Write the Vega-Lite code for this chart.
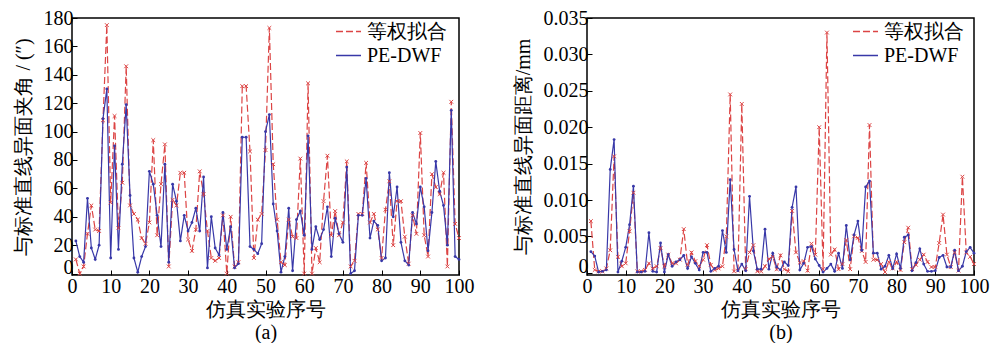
{
"$schema":"https://vega.github.io/schema/vega-lite/v6.json",
"padding":{"left":12,"top":7,"right":0,"bottom":0},
"spacing":37,
"config":{
"font":"Liberation Serif",
"view":{"stroke":"black","strokeWidth":1.5},
"axis":{"labelFont":"Liberation Serif","labelFontSize":20,"labelColor":"black","titleFont":"Liberation Serif","titleFontSize":20,"titleFontWeight":"normal","titleColor":"black","tickColor":"black","tickSize":-5,"domain":false,"grid":false,"labelPadding":4,"labelFlush":false,"titlePadding":10},
"legend":{"labelFont":"Liberation Serif","labelFontSize":20}
},
"datasets":{
"a":[
{"i":1,"s":"等权拟合","v":10},{"i":2,"s":"等权拟合","v":0},{"i":3,"s":"等权拟合","v":5},{"i":4,"s":"等权拟合","v":28},{"i":5,"s":"等权拟合","v":48},{"i":6,"s":"等权拟合","v":31},{"i":7,"s":"等权拟合","v":30},{"i":8,"s":"等权拟合","v":108},{"i":9,"s":"等权拟合","v":175},{"i":10,"s":"等权拟合","v":50},
{"i":11,"s":"等权拟合","v":111},{"i":12,"s":"等权拟合","v":32},{"i":13,"s":"等权拟合","v":64},{"i":14,"s":"等权拟合","v":146},{"i":15,"s":"等权拟合","v":48},{"i":16,"s":"等权拟合","v":42},{"i":17,"s":"等权拟合","v":38},{"i":18,"s":"等权拟合","v":25},{"i":19,"s":"等权拟合","v":21},{"i":20,"s":"等权拟合","v":36},
{"i":21,"s":"等权拟合","v":94},{"i":22,"s":"等权拟合","v":27},{"i":23,"s":"等权拟合","v":63},{"i":24,"s":"等权拟合","v":91},{"i":25,"s":"等权拟合","v":5},{"i":26,"s":"等权拟合","v":52},{"i":27,"s":"等权拟合","v":48},{"i":28,"s":"等权拟合","v":71},{"i":29,"s":"等权拟合","v":71},{"i":30,"s":"等权拟合","v":24},
{"i":31,"s":"等权拟合","v":16},{"i":32,"s":"等权拟合","v":31},{"i":33,"s":"等权拟合","v":72},{"i":34,"s":"等权拟合","v":56},{"i":35,"s":"等权拟合","v":30},{"i":36,"s":"等权拟合","v":11},{"i":37,"s":"等权拟合","v":9},{"i":38,"s":"等权拟合","v":11},{"i":39,"s":"等权拟合","v":41},{"i":40,"s":"等权拟合","v":0},
{"i":41,"s":"等权拟合","v":40},{"i":42,"s":"等权拟合","v":5},{"i":43,"s":"等权拟合","v":8},{"i":44,"s":"等权拟合","v":132},{"i":45,"s":"等权拟合","v":132},{"i":46,"s":"等权拟合","v":86},{"i":47,"s":"等权拟合","v":11},{"i":48,"s":"等权拟合","v":38},{"i":49,"s":"等权拟合","v":42},{"i":50,"s":"等权拟合","v":87},
{"i":51,"s":"等权拟合","v":173},{"i":52,"s":"等权拟合","v":77},{"i":53,"s":"等权拟合","v":38},{"i":54,"s":"等权拟合","v":8},{"i":55,"s":"等权拟合","v":6},{"i":56,"s":"等权拟合","v":38},{"i":57,"s":"等权拟合","v":26},{"i":58,"s":"等权拟合","v":25},{"i":59,"s":"等权拟合","v":81},{"i":60,"s":"等权拟合","v":0},
{"i":61,"s":"等权拟合","v":134},{"i":62,"s":"等权拟合","v":0},{"i":63,"s":"等权拟合","v":18},{"i":64,"s":"等权拟合","v":8},{"i":65,"s":"等权拟合","v":51},{"i":66,"s":"等权拟合","v":83},{"i":67,"s":"等权拟合","v":27},{"i":68,"s":"等权拟合","v":44},{"i":69,"s":"等权拟合","v":27},{"i":70,"s":"等权拟合","v":36},
{"i":71,"s":"等权拟合","v":79},{"i":72,"s":"等权拟合","v":5},{"i":73,"s":"等权拟合","v":9},{"i":74,"s":"等权拟合","v":42},{"i":75,"s":"等权拟合","v":42},{"i":76,"s":"等权拟合","v":78},{"i":77,"s":"等权拟合","v":36},{"i":78,"s":"等权拟合","v":42},{"i":79,"s":"等权拟合","v":31},{"i":80,"s":"等权拟合","v":11},
{"i":81,"s":"等权拟合","v":45},{"i":82,"s":"等权拟合","v":65},{"i":83,"s":"等权拟合","v":20},{"i":84,"s":"等权拟合","v":51},{"i":85,"s":"等权拟合","v":51},{"i":86,"s":"等权拟合","v":26},{"i":87,"s":"等权拟合","v":7},{"i":88,"s":"等权拟合","v":41},{"i":89,"s":"等权拟合","v":28},{"i":90,"s":"等权拟合","v":99},
{"i":91,"s":"等权拟合","v":27},{"i":92,"s":"等权拟合","v":12},{"i":93,"s":"等权拟合","v":70},{"i":94,"s":"等权拟合","v":61},{"i":95,"s":"等权拟合","v":56},{"i":96,"s":"等权拟合","v":71},{"i":97,"s":"等权拟合","v":5},{"i":98,"s":"等权拟合","v":121},{"i":99,"s":"等权拟合","v":35},{"i":100,"s":"等权拟合","v":25},
{"i":1,"s":"PE-DWF","v":23},{"i":2,"s":"PE-DWF","v":12},{"i":3,"s":"PE-DWF","v":8},{"i":4,"s":"PE-DWF","v":53},{"i":5,"s":"PE-DWF","v":18},{"i":6,"s":"PE-DWF","v":10},{"i":7,"s":"PE-DWF","v":20},{"i":8,"s":"PE-DWF","v":109},{"i":9,"s":"PE-DWF","v":130},{"i":10,"s":"PE-DWF","v":11},
{"i":11,"s":"PE-DWF","v":90},{"i":12,"s":"PE-DWF","v":17},{"i":13,"s":"PE-DWF","v":77},{"i":14,"s":"PE-DWF","v":119},{"i":15,"s":"PE-DWF","v":55},{"i":16,"s":"PE-DWF","v":11},{"i":17,"s":"PE-DWF","v":1},{"i":18,"s":"PE-DWF","v":12},{"i":19,"s":"PE-DWF","v":19},{"i":20,"s":"PE-DWF","v":72},
{"i":21,"s":"PE-DWF","v":63},{"i":22,"s":"PE-DWF","v":41},{"i":23,"s":"PE-DWF","v":19},{"i":24,"s":"PE-DWF","v":77},{"i":25,"s":"PE-DWF","v":8},{"i":26,"s":"PE-DWF","v":63},{"i":27,"s":"PE-DWF","v":51},{"i":28,"s":"PE-DWF","v":23},{"i":29,"s":"PE-DWF","v":41},{"i":30,"s":"PE-DWF","v":30},
{"i":31,"s":"PE-DWF","v":36},{"i":32,"s":"PE-DWF","v":46},{"i":33,"s":"PE-DWF","v":30},{"i":34,"s":"PE-DWF","v":68},{"i":35,"s":"PE-DWF","v":4},{"i":36,"s":"PE-DWF","v":40},{"i":37,"s":"PE-DWF","v":18},{"i":38,"s":"PE-DWF","v":13},{"i":39,"s":"PE-DWF","v":43},{"i":40,"s":"PE-DWF","v":17},
{"i":41,"s":"PE-DWF","v":33},{"i":42,"s":"PE-DWF","v":4},{"i":43,"s":"PE-DWF","v":7},{"i":44,"s":"PE-DWF","v":96},{"i":45,"s":"PE-DWF","v":96},{"i":46,"s":"PE-DWF","v":19},{"i":47,"s":"PE-DWF","v":17},{"i":48,"s":"PE-DWF","v":14},{"i":49,"s":"PE-DWF","v":21},{"i":50,"s":"PE-DWF","v":100},
{"i":51,"s":"PE-DWF","v":112},{"i":52,"s":"PE-DWF","v":49},{"i":53,"s":"PE-DWF","v":30},{"i":54,"s":"PE-DWF","v":1},{"i":55,"s":"PE-DWF","v":12},{"i":56,"s":"PE-DWF","v":46},{"i":57,"s":"PE-DWF","v":2},{"i":58,"s":"PE-DWF","v":38},{"i":59,"s":"PE-DWF","v":44},{"i":60,"s":"PE-DWF","v":27},
{"i":61,"s":"PE-DWF","v":97},{"i":62,"s":"PE-DWF","v":17},{"i":63,"s":"PE-DWF","v":33},{"i":64,"s":"PE-DWF","v":24},{"i":65,"s":"PE-DWF","v":31},{"i":66,"s":"PE-DWF","v":47},{"i":67,"s":"PE-DWF","v":12},{"i":68,"s":"PE-DWF","v":39},{"i":69,"s":"PE-DWF","v":28},{"i":70,"s":"PE-DWF","v":22},
{"i":71,"s":"PE-DWF","v":75},{"i":72,"s":"PE-DWF","v":0},{"i":73,"s":"PE-DWF","v":2},{"i":74,"s":"PE-DWF","v":41},{"i":75,"s":"PE-DWF","v":41},{"i":76,"s":"PE-DWF","v":67},{"i":77,"s":"PE-DWF","v":25},{"i":78,"s":"PE-DWF","v":37},{"i":79,"s":"PE-DWF","v":34},{"i":80,"s":"PE-DWF","v":9},
{"i":81,"s":"PE-DWF","v":11},{"i":82,"s":"PE-DWF","v":71},{"i":83,"s":"PE-DWF","v":40},{"i":84,"s":"PE-DWF","v":61},{"i":85,"s":"PE-DWF","v":22},{"i":86,"s":"PE-DWF","v":9},{"i":87,"s":"PE-DWF","v":6},{"i":88,"s":"PE-DWF","v":43},{"i":89,"s":"PE-DWF","v":35},{"i":90,"s":"PE-DWF","v":61},
{"i":91,"s":"PE-DWF","v":47},{"i":92,"s":"PE-DWF","v":16},{"i":93,"s":"PE-DWF","v":43},{"i":94,"s":"PE-DWF","v":79},{"i":95,"s":"PE-DWF","v":58},{"i":96,"s":"PE-DWF","v":48},{"i":97,"s":"PE-DWF","v":20},{"i":98,"s":"PE-DWF","v":115},{"i":99,"s":"PE-DWF","v":12},{"i":100,"s":"PE-DWF","v":10}
],
"b":[
{"i":1,"s":"等权拟合","v":0.0071},{"i":2,"s":"等权拟合","v":0.0004},{"i":3,"s":"等权拟合","v":0.0002},{"i":4,"s":"等权拟合","v":0.0002},{"i":5,"s":"等权拟合","v":0.0006},{"i":6,"s":"等权拟合","v":0.0031},{"i":7,"s":"等权拟合","v":0.016},{"i":8,"s":"等权拟合","v":0.0022},{"i":9,"s":"等权拟合","v":0.0009},{"i":10,"s":"等权拟合","v":0.0013},
{"i":11,"s":"等权拟合","v":0.0057},{"i":12,"s":"等权拟合","v":0.011},{"i":13,"s":"等权拟合","v":0.0002},{"i":14,"s":"等权拟合","v":0.0002},{"i":15,"s":"等权拟合","v":0.0004},{"i":16,"s":"等权拟合","v":0.0013},{"i":17,"s":"等权拟合","v":0.0006},{"i":18,"s":"等权拟合","v":0.0009},{"i":19,"s":"等权拟合","v":0.0034},{"i":20,"s":"等权拟合","v":0.0009},
{"i":21,"s":"等权拟合","v":0.0025},{"i":22,"s":"等权拟合","v":0.0013},{"i":23,"s":"等权拟合","v":0.0013},{"i":24,"s":"等权拟合","v":0.0018},{"i":25,"s":"等权拟合","v":0.006},{"i":26,"s":"等权拟合","v":0.0011},{"i":27,"s":"等权拟合","v":0.0028},{"i":28,"s":"等权拟合","v":0.0016},{"i":29,"s":"等权拟合","v":0.0009},{"i":30,"s":"等权拟合","v":0.0018},
{"i":31,"s":"等权拟合","v":0.0038},{"i":32,"s":"等权拟合","v":0.0011},{"i":33,"s":"等权拟合","v":0.0004},{"i":34,"s":"等权拟合","v":0.0006},{"i":35,"s":"等权拟合","v":0.0009},{"i":36,"s":"等权拟合","v":0.005},{"i":37,"s":"等权拟合","v":0.0245},{"i":38,"s":"等权拟合","v":0.0002},{"i":39,"s":"等权拟合","v":0.0003},{"i":40,"s":"等权拟合","v":0.0232},
{"i":41,"s":"等权拟合","v":0.0005},{"i":42,"s":"等权拟合","v":0.0028},{"i":43,"s":"等权拟合","v":0.0038},{"i":44,"s":"等权拟合","v":0.0002},{"i":45,"s":"等权拟合","v":0.0002},{"i":46,"s":"等权拟合","v":0.0009},{"i":47,"s":"等权拟合","v":0.0019},{"i":48,"s":"等权拟合","v":0.0022},{"i":49,"s":"等权拟合","v":0.0005},{"i":50,"s":"等权拟合","v":0.0024},
{"i":51,"s":"等权拟合","v":0.0005},{"i":52,"s":"等权拟合","v":0.0002},{"i":53,"s":"等权拟合","v":0.0085},{"i":54,"s":"等权拟合","v":0.0028},{"i":55,"s":"等权拟合","v":0.0014},{"i":56,"s":"等权拟合","v":0.0016},{"i":57,"s":"等权拟合","v":0.0003},{"i":58,"s":"等权拟合","v":0.004},{"i":59,"s":"等权拟合","v":0.0025},{"i":60,"s":"等权拟合","v":0.02},
{"i":61,"s":"等权拟合","v":0.0005},{"i":62,"s":"等权拟合","v":0.033},{"i":63,"s":"等权拟合","v":0.0025},{"i":64,"s":"等权拟合","v":0.0032},{"i":65,"s":"等权拟合","v":0.0005},{"i":66,"s":"等权拟合","v":0.0012},{"i":67,"s":"等权拟合","v":0.0045},{"i":68,"s":"等权拟合","v":0.0005},{"i":69,"s":"等权拟合","v":0.005},{"i":70,"s":"等权拟合","v":0.0048},
{"i":71,"s":"等权拟合","v":0.003},{"i":72,"s":"等权拟合","v":0.0015},{"i":73,"s":"等权拟合","v":0.0203},{"i":74,"s":"等权拟合","v":0.0018},{"i":75,"s":"等权拟合","v":0.0018},{"i":76,"s":"等权拟合","v":0.0012},{"i":77,"s":"等权拟合","v":0.0001},{"i":78,"s":"等权拟合","v":0.0015},{"i":79,"s":"等权拟合","v":0.0006},{"i":80,"s":"等权拟合","v":0.0015},
{"i":81,"s":"等权拟合","v":0.0004},{"i":82,"s":"等权拟合","v":0.0042},{"i":83,"s":"等权拟合","v":0.0062},{"i":84,"s":"等权拟合","v":0.0005},{"i":85,"s":"等权拟合","v":0.0011},{"i":86,"s":"等权拟合","v":0.0018},{"i":87,"s":"等权拟合","v":0.0025},{"i":88,"s":"等权拟合","v":0.0015},{"i":89,"s":"等权拟合","v":0.0008},{"i":90,"s":"等权拟合","v":0.0008},
{"i":91,"s":"等权拟合","v":0.0041},{"i":92,"s":"等权拟合","v":0.008},{"i":93,"s":"等权拟合","v":0.0025},{"i":94,"s":"等权拟合","v":0.0008},{"i":95,"s":"等权拟合","v":0.0028},{"i":96,"s":"等权拟合","v":0.0003},{"i":97,"s":"等权拟合","v":0.0132},{"i":98,"s":"等权拟合","v":0.0028},{"i":99,"s":"等权拟合","v":0.0022},{"i":100,"s":"等权拟合","v":0.0012},
{"i":1,"s":"PE-DWF","v":0.0029},{"i":2,"s":"PE-DWF","v":0.0023},{"i":3,"s":"PE-DWF","v":0.0001},{"i":4,"s":"PE-DWF","v":0.0002},{"i":5,"s":"PE-DWF","v":0.0004},{"i":6,"s":"PE-DWF","v":0.0142},{"i":7,"s":"PE-DWF","v":0.0183},{"i":8,"s":"PE-DWF","v":0.0001},{"i":9,"s":"PE-DWF","v":0.0016},{"i":10,"s":"PE-DWF","v":0.0035},
{"i":11,"s":"PE-DWF","v":0.0066},{"i":12,"s":"PE-DWF","v":0.0119},{"i":13,"s":"PE-DWF","v":0.0001},{"i":14,"s":"PE-DWF","v":0.0001},{"i":15,"s":"PE-DWF","v":0.0002},{"i":16,"s":"PE-DWF","v":0.0055},{"i":17,"s":"PE-DWF","v":0.0002},{"i":18,"s":"PE-DWF","v":0.0001},{"i":19,"s":"PE-DWF","v":0.0041},{"i":20,"s":"PE-DWF","v":0.0001},
{"i":21,"s":"PE-DWF","v":0.0025},{"i":22,"s":"PE-DWF","v":0.0009},{"i":23,"s":"PE-DWF","v":0.0015},{"i":24,"s":"PE-DWF","v":0.0018},{"i":25,"s":"PE-DWF","v":0.0024},{"i":26,"s":"PE-DWF","v":0.0006},{"i":27,"s":"PE-DWF","v":0.0022},{"i":28,"s":"PE-DWF","v":0.0013},{"i":29,"s":"PE-DWF","v":0.0004},{"i":30,"s":"PE-DWF","v":0.0028},
{"i":31,"s":"PE-DWF","v":0.0028},{"i":32,"s":"PE-DWF","v":0.0002},{"i":33,"s":"PE-DWF","v":0.0006},{"i":34,"s":"PE-DWF","v":0.0009},{"i":35,"s":"PE-DWF","v":0.0058},{"i":36,"s":"PE-DWF","v":0.0028},{"i":37,"s":"PE-DWF","v":0.0128},{"i":38,"s":"PE-DWF","v":0.0032},{"i":39,"s":"PE-DWF","v":0.0003},{"i":40,"s":"PE-DWF","v":0.0012},
{"i":41,"s":"PE-DWF","v":0.0003},{"i":42,"s":"PE-DWF","v":0.0105},{"i":43,"s":"PE-DWF","v":0.003},{"i":44,"s":"PE-DWF","v":0.0005},{"i":45,"s":"PE-DWF","v":0.0005},{"i":46,"s":"PE-DWF","v":0.006},{"i":47,"s":"PE-DWF","v":0.0005},{"i":48,"s":"PE-DWF","v":0.0027},{"i":49,"s":"PE-DWF","v":0.0008},{"i":50,"s":"PE-DWF","v":0.0004},
{"i":51,"s":"PE-DWF","v":0.0015},{"i":52,"s":"PE-DWF","v":0.001},{"i":53,"s":"PE-DWF","v":0.009},{"i":54,"s":"PE-DWF","v":0.0118},{"i":55,"s":"PE-DWF","v":0.0004},{"i":56,"s":"PE-DWF","v":0.0013},{"i":57,"s":"PE-DWF","v":0.0035},{"i":58,"s":"PE-DWF","v":0.0036},{"i":59,"s":"PE-DWF","v":0.0019},{"i":60,"s":"PE-DWF","v":0.001},
{"i":61,"s":"PE-DWF","v":0.0001},{"i":62,"s":"PE-DWF","v":0.0006},{"i":63,"s":"PE-DWF","v":0.0012},{"i":64,"s":"PE-DWF","v":0.0002},{"i":65,"s":"PE-DWF","v":0.0027},{"i":66,"s":"PE-DWF","v":0.0006},{"i":67,"s":"PE-DWF","v":0.0065},{"i":68,"s":"PE-DWF","v":0.0018},{"i":69,"s":"PE-DWF","v":0.0052},{"i":70,"s":"PE-DWF","v":0.0071},
{"i":71,"s":"PE-DWF","v":0.0031},{"i":72,"s":"PE-DWF","v":0.0118},{"i":73,"s":"PE-DWF","v":0.0126},{"i":74,"s":"PE-DWF","v":0.0027},{"i":75,"s":"PE-DWF","v":0.0027},{"i":76,"s":"PE-DWF","v":0.0005},{"i":77,"s":"PE-DWF","v":0.0009},{"i":78,"s":"PE-DWF","v":0.0024},{"i":79,"s":"PE-DWF","v":0.0006},{"i":80,"s":"PE-DWF","v":0.0026},
{"i":81,"s":"PE-DWF","v":0.0006},{"i":82,"s":"PE-DWF","v":0.0049},{"i":83,"s":"PE-DWF","v":0.0052},{"i":84,"s":"PE-DWF","v":0.0003},{"i":85,"s":"PE-DWF","v":0.0014},{"i":86,"s":"PE-DWF","v":0.0033},{"i":87,"s":"PE-DWF","v":0.0012},{"i":88,"s":"PE-DWF","v":0.0002},{"i":89,"s":"PE-DWF","v":0.0002},{"i":90,"s":"PE-DWF","v":0.0003},
{"i":91,"s":"PE-DWF","v":0.0021},{"i":92,"s":"PE-DWF","v":0.0024},{"i":93,"s":"PE-DWF","v":0.0008},{"i":94,"s":"PE-DWF","v":0.0008},{"i":95,"s":"PE-DWF","v":0.0031},{"i":96,"s":"PE-DWF","v":0.0003},{"i":97,"s":"PE-DWF","v":0.0009},{"i":98,"s":"PE-DWF","v":0.0029},{"i":99,"s":"PE-DWF","v":0.0035},{"i":100,"s":"PE-DWF","v":0.0027}
]
},
"hconcat":[
{
"width":387,"height":257,
"data":{"name":"a"},
"encoding":{
"x":{"field":"i","type":"quantitative","scale":{"domain":[0,100],"nice":false},"axis":{"values":[0,10,20,30,40,50,60,70,80,90,100],"labelPadding":6,"title":["仿真实验序号","(a)"],"titlePadding":3,"titleLineHeight":23}},
"y":{"field":"v","type":"quantitative","scale":{"domain":[-1,180],"nice":false,"zero":false},"axis":{"values":[0,20,40,60,80,100,120,140,160,180],"labelOffset":{"condition":{"test":"datum.value == 0","value":-6},"value":0},"title":"与标准直线异面夹角 / (″)"}},
"color":{"field":"s","type":"nominal","sort":["等权拟合","PE-DWF"],"scale":{"domain":["等权拟合","PE-DWF"],"range":["#dc4444","#3838a8"]},"legend":{"title":null,"orient":"none","legendX":263,"legendY":0,"symbolType":"stroke","symbolSize":625,"symbolStrokeWidth":1.3,"labelFont":"Liberation Serif","labelFontSize":20,"labelColor":"black","rowPadding":-4,"labelOffset":5,"padding":0}}
},
"layer":[
{"mark":{"type":"line","strokeWidth":1.2},"encoding":{"strokeDash":{"field":"s","type":"nominal","sort":["等权拟合","PE-DWF"],"scale":{"domain":["等权拟合","PE-DWF"],"range":[[7,3],[1,0]]},"legend":{"title":null,"orient":"none","legendX":263,"legendY":0,"symbolType":"stroke","symbolSize":625,"symbolStrokeWidth":1.3,"labelFont":"Liberation Serif","labelFontSize":20,"labelColor":"black","rowPadding":-4,"labelOffset":5,"padding":0}}}},
{"transform":[{"filter":"datum.s == '等权拟合'"}],"mark":{"type":"point","shape":"M-1,-1L1,1M-1,1L1,-1","size":14,"strokeWidth":1,"opacity":1}},
{"transform":[{"filter":"datum.s == 'PE-DWF'"}],"mark":{"type":"point","shape":"circle","filled":true,"size":8,"opacity":1}}
]
},
{
"width":387,"height":257,
"data":{"name":"b"},
"encoding":{
"x":{"field":"i","type":"quantitative","scale":{"domain":[0,100],"nice":false},"axis":{"values":[0,10,20,30,40,50,60,70,80,90,100],"labelPadding":6,"title":["仿真实验序号","(b)"],"titlePadding":3,"titleLineHeight":23}},
"y":{"field":"v","type":"quantitative","scale":{"domain":[-0.0003,0.035],"nice":false,"zero":false},"axis":{"values":[0,0.005,0.01,0.015,0.02,0.025,0.03,0.035],"labelOffset":{"condition":{"test":"datum.value == 0","value":-6},"value":0},"labelExpr":"datum.value == 0 ? '0' : format(datum.value, '.3f')","title":"与标准直线异面距离/mm"}},
"color":{"field":"s","type":"nominal","sort":["等权拟合","PE-DWF"],"scale":{"domain":["等权拟合","PE-DWF"],"range":["#dc4444","#3838a8"]},"legend":{"title":null,"orient":"none","legendX":265,"legendY":0,"symbolType":"stroke","symbolSize":625,"symbolStrokeWidth":1.3,"labelFont":"Liberation Serif","labelFontSize":20,"labelColor":"black","rowPadding":-4,"labelOffset":5,"padding":0}}
},
"layer":[
{"mark":{"type":"line","strokeWidth":1.2},"encoding":{"strokeDash":{"field":"s","type":"nominal","sort":["等权拟合","PE-DWF"],"scale":{"domain":["等权拟合","PE-DWF"],"range":[[7,3],[1,0]]},"legend":{"title":null,"orient":"none","legendX":265,"legendY":0,"symbolType":"stroke","symbolSize":625,"symbolStrokeWidth":1.3,"labelFont":"Liberation Serif","labelFontSize":20,"labelColor":"black","rowPadding":-4,"labelOffset":5,"padding":0}}}},
{"transform":[{"filter":"datum.s == '等权拟合'"}],"mark":{"type":"point","shape":"M-1,-1L1,1M-1,1L1,-1","size":14,"strokeWidth":1,"opacity":1}},
{"transform":[{"filter":"datum.s == 'PE-DWF'"}],"mark":{"type":"point","shape":"circle","filled":true,"size":8,"opacity":1}}
]
}
],
"resolve":{"scale":{"color":"independent","strokeDash":"independent"},"legend":{"color":"independent","strokeDash":"independent"}}
}
